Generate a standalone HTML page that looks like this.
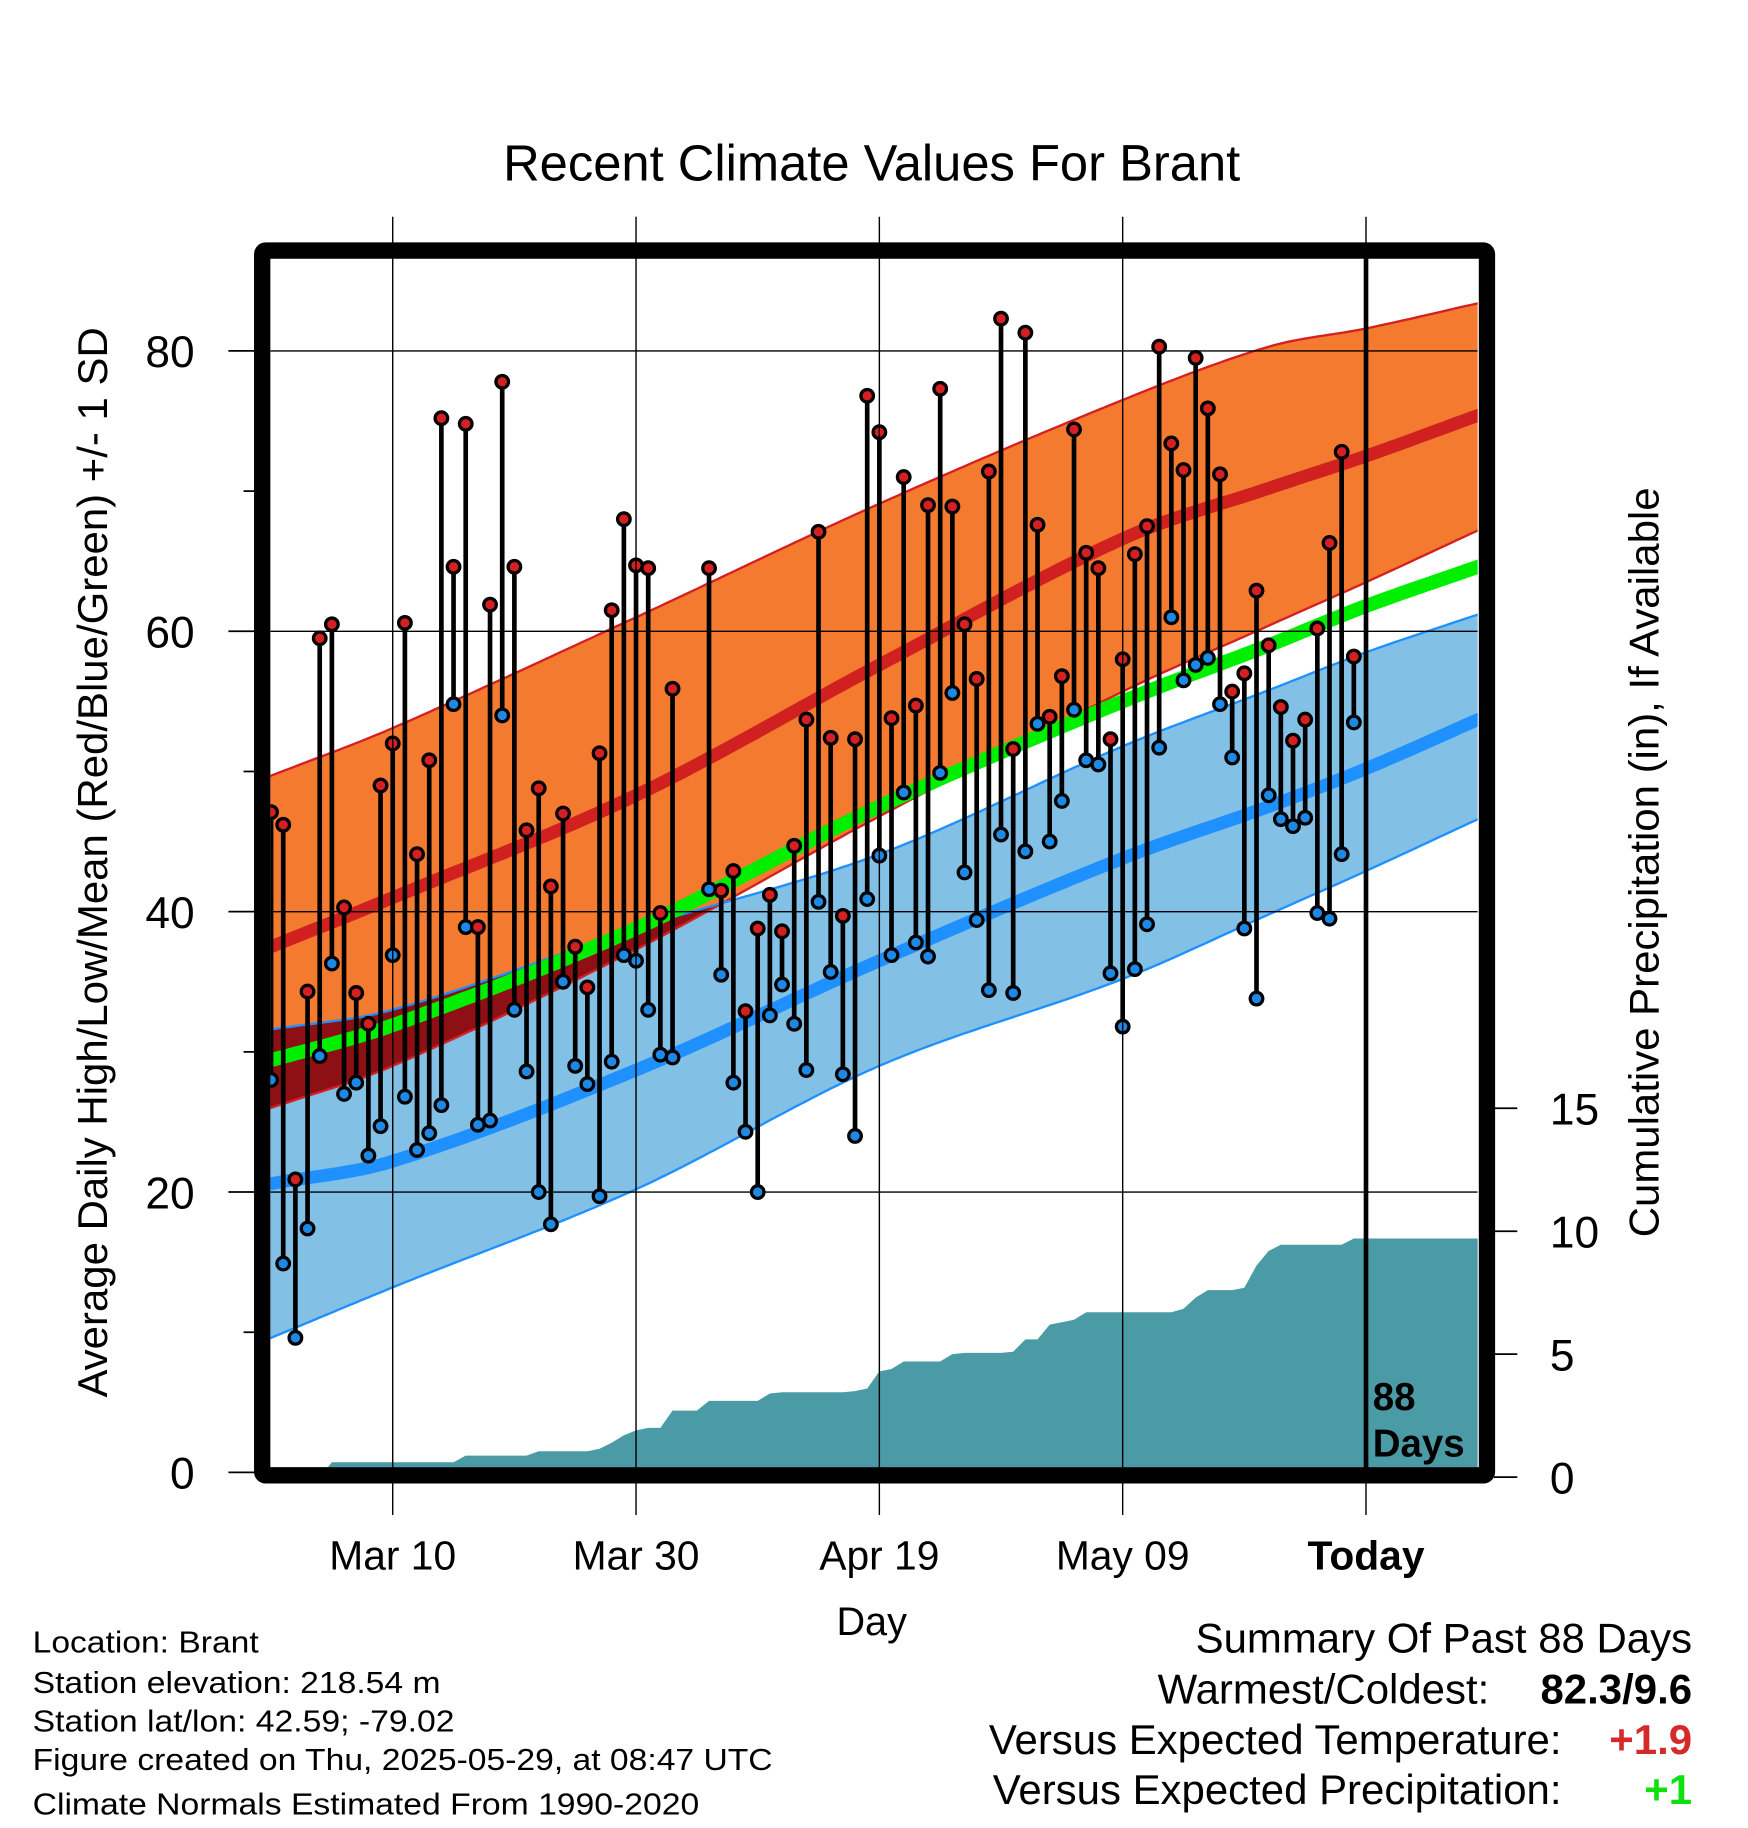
<!DOCTYPE html>
<html><head><meta charset="utf-8">
<style>
html,body{margin:0;padding:0;background:#fff;}
svg{display:block;font-family:"Liberation Sans",sans-serif;}
</style></head>
<body>
<svg id="chart" width="1748" height="1828" viewBox="0 0 1500 1568.6" xmlns="http://www.w3.org/2000/svg">
<rect width="1500" height="1568.6" fill="#fff"/>
<defs>
<clipPath id="plotclip"><rect x="232" y="222" width="1036" height="1037"/></clipPath>
</defs>
<g id="plot" clip-path="url(#plotclip)"></g>
<g id="axes"></g>
<text x="748" y="155" font-size="43.5" text-anchor="middle">Recent Climate Values For Brant</text>
<text transform="translate(92,740) rotate(-90)" font-size="36" text-anchor="middle">Average Daily High/Low/Mean (Red/Blue/Green) +/- 1 SD</text>
<text transform="translate(1423,740) rotate(-90)" font-size="36" text-anchor="middle">Cumulative Precipitation (in), If Available</text>
<text x="748" y="1403" font-size="34" text-anchor="middle">Day</text>
<text x="1178" y="1210" font-size="33" font-weight="bold">88</text>
<text x="1178" y="1250" font-size="33" font-weight="bold">Days</text>
<g font-size="26">
<text x="28" y="1418" textLength="194" lengthAdjust="spacingAndGlyphs">Location: Brant</text>
<text x="28" y="1453" textLength="350" lengthAdjust="spacingAndGlyphs">Station elevation: 218.54 m</text>
<text x="28" y="1486" textLength="362" lengthAdjust="spacingAndGlyphs">Station lat/lon: 42.59; -79.02</text>
<text x="28" y="1519" textLength="635" lengthAdjust="spacingAndGlyphs">Figure created on Thu, 2025-05-29, at 08:47 UTC</text>
<text x="28" y="1557" textLength="572" lengthAdjust="spacingAndGlyphs">Climate Normals Estimated From 1990-2020</text>
</g>
<g font-size="36" text-anchor="end">
<text x="1452" y="1418">Summary Of Past 88 Days</text>
<text x="1278" y="1462">Warmest/Coldest:</text>
<text x="1452" y="1462" font-weight="bold">82.3/9.6</text>
<text x="1340" y="1505">Versus Expected Temperature:</text>
<text x="1452" y="1505" font-weight="bold" fill="#d42a2a">+1.9</text>
<text x="1340" y="1548">Versus Expected Precipitation:</text>
<text x="1452" y="1548" font-weight="bold" fill="#10e010">+1</text>
</g>
</svg>
<script>
// ---- data ----
const normDays = [-10, 0, 20, 40, 60, 72, 80, 89.2];
const redUpper = [49.7, 53.1, 61.0, 69.1, 76.5, 80.3, 81.6, 83.4];
const redMean  = [37.5, 41.0, 48.3, 57.6, 66.6, 70.2, 72.5, 75.4];
const redLower = [26.0, 29.0, 37.3, 46.8, 55.7, 60.4, 63.5, 67.2];
const blueUpper= [31.6, 33.0, 38.8, 44.1, 51.8, 55.8, 58.5, 61.2];
const blueMean = [20.6, 22.2, 28.7, 36.5, 43.8, 47.5, 50.2, 53.7];
const blueLower= [9.6, 13.2, 20.2, 29.0, 35.2, 39.8, 42.9, 46.6];
const greenMean= [29.4, 31.9, 38.8, 47.5, 55.0, 59.0, 61.8, 64.6];
const firstDay = -10;
const highs = [47.1,46.2,20.9,34.3,59.5,60.5,40.3,34.2,32.0,49.0,52.0,60.6,44.1,50.8,75.2,64.6,74.8,38.9,61.9,77.8,64.6,45.8,48.8,41.8,47.0,37.5,34.6,51.3,61.5,68.0,64.7,64.5,39.9,55.9,null,null,64.5,41.5,42.9,32.9,38.8,41.2,38.6,44.7,53.7,67.1,52.4,39.7,52.3,76.8,74.2,53.8,71.0,54.7,69.0,77.3,68.9,60.5,56.6,71.4,82.3,51.6,81.3,67.6,53.9,56.8,74.4,65.6,64.5,52.3,58.0,65.5,67.5,80.3,73.4,71.5,79.5,75.9,71.2,55.7,57.0,62.9,59.0,54.6,52.2,53.7,60.2,66.3,72.8,58.2];
const lows = [28.0,14.9,9.6,17.4,29.7,36.3,27.0,27.8,22.6,24.7,36.9,26.8,23.0,24.2,26.2,54.8,38.9,24.8,25.1,54.0,33.0,28.6,20.0,17.7,35.0,29.0,27.7,19.7,29.3,36.9,36.5,33.0,29.8,29.6,null,null,41.6,35.5,27.8,24.3,20.0,32.6,34.8,32.0,28.7,40.7,35.7,28.4,24.0,40.9,44.0,36.9,48.5,37.8,36.8,49.9,55.6,42.8,39.4,34.4,45.5,34.2,44.3,53.4,45.0,47.9,54.4,50.8,50.5,35.6,31.8,35.9,39.1,51.7,61.0,56.5,57.6,58.1,54.8,51.0,38.8,33.8,48.3,46.6,46.1,46.7,39.9,39.5,44.1,53.5];
const precip = [0,0,0,0,0,0.6,0.6,0.6,0.6,0.6,0.6,0.6,0.6,0.6,0.6,0.6,0.87,0.87,0.87,0.87,0.87,0.87,1.05,1.05,1.05,1.05,1.05,1.15,1.4,1.7,1.9,2.0,2.0,2.7,2.7,2.7,3.1,3.1,3.1,3.1,3.1,3.4,3.45,3.45,3.45,3.45,3.45,3.45,3.5,3.6,4.3,4.4,4.7,4.7,4.7,4.7,5.0,5.05,5.05,5.05,5.05,5.1,5.6,5.6,6.2,6.3,6.4,6.7,6.7,6.7,6.7,6.7,6.7,6.7,6.7,6.85,7.3,7.6,7.6,7.6,7.7,8.6,9.2,9.45,9.45,9.45,9.45,9.45,9.45,9.7];
const yTicks = [0,20,40,60,80];
const y2Ticks = [0,5,10,15];
const xTickDays = [0,20,40,60,80];
const xTickLabels = ["Mar 10","Mar 30","Apr 19","May 09","Today"];
// ---- scales ----
const X0 = 337, DX = 10.44;
const x = d => X0 + DX*d;
const y = v => 1263.5 - 12.03*v;
const y2 = v => 1267.5 - 21.1*v;
const NS = "http://www.w3.org/2000/svg";
function mk(tag, attrs, parent){const e=document.createElementNS(NS,tag);for(const k in attrs)e.setAttribute(k,attrs[k]);parent.appendChild(e);return e;}
// smooth (cubic Hermite) interpolation of normals
function slope(arr,i){
  const n=normDays.length;
  if(i===0) return (arr[1]-arr[0])/(normDays[1]-normDays[0]);
  if(i===n-1) return (arr[n-1]-arr[n-2])/(normDays[n-1]-normDays[n-2]);
  return (arr[i+1]-arr[i-1])/(normDays[i+1]-normDays[i-1]);
}
function interp(arr, d){
  const n=normDays.length;
  let i=0;
  while(i<n-2 && d>normDays[i+1]) i++;
  const h=normDays[i+1]-normDays[i];
  const t=(d-normDays[i])/h;
  const m0=slope(arr,i)*h, m1=slope(arr,i+1)*h;
  const t2=t*t,t3=t2*t;
  return (2*t3-3*t2+1)*arr[i]+(t3-2*t2+t)*m0+(-2*t3+3*t2)*arr[i+1]+(t3-t2)*m1;
}
const dense=[];for(let d=-10.5; d<=89.5; d+=0.5) dense.push(d);
const pts = arr => dense.map(d=>x(d).toFixed(1)+","+y(interp(arr,d)).toFixed(1));
const plot = document.getElementById('plot');
const axes = document.getElementById('axes');
// precip area
let pd = "M"+x(firstDay)+","+y2(0);
precip.forEach((p,i)=>{pd+=" L"+x(firstDay+i).toFixed(1)+","+y2(p).toFixed(1);});
pd += " L1270,"+y2(precip[precip.length-1]).toFixed(1)+" L1270,"+y2(0)+" Z";
const pa = mk('path',{d:pd,fill:'#4a9ba6'},plot);


// bands
function band(up, lo, fill, name){
  const a = pts(up), b = pts(lo).reverse();
  const e = mk('polygon',{points:a.concat(b).join(' '),fill:fill},plot);
  
  
}
function line(arr, color, w, name){
  const e = mk('polyline',{points:pts(arr).join(' '),fill:'none',stroke:color,'stroke-width':w},plot);
  
  
}
band(redUpper, redLower, '#f47a30', 'high-band');
band(blueUpper, blueLower, '#82c0e6', 'low-band');
// overlap region
const ov=[];
dense.forEach(d=>{const a=interp(redLower,d),b=interp(blueUpper,d);ov.push([d,Math.min(a,b),b]);});
const ovPts = ov.map(o=>x(o[0]).toFixed(1)+","+y(o[1]).toFixed(1)).concat(ov.slice().reverse().map(o=>x(o[0]).toFixed(1)+","+y(o[2]).toFixed(1)));
const ovE = mk('polygon',{points:ovPts.join(' '),fill:'#8e1014'},plot);


line(redUpper,'#d42020',2,'high-upper-line');
line(redLower,'#d42020',2,'high-lower-line');
line(blueUpper,'#1e90ff',2,'low-upper-line');
line(blueLower,'#1e90ff',2,'low-lower-line');
line(redMean,'#d02020',11,'high-mean-line');
line(blueMean,'#1e90ff',11,'low-mean-line');
line(greenMean,'#00ee00',12,'mean-line');
// gridlines
yTicks.forEach(v=>{ if(v>0){const g=mk('line',{x1:232,x2:1268,y1:y(v),y2:y(v),stroke:'#000','stroke-width':1.2},plot);

}});
xTickDays.forEach(d=>{const g=mk('line',{x1:x(d),x2:x(d),y1:186,y2:1300,stroke:'#000','stroke-width':1.2},axes);

});
// stems and dots
highs.forEach((h,i)=>{
  const l=lows[i]; if(h==null||l==null) return;
  const xx=x(firstDay+i);
  const s=mk('line',{x1:xx,x2:xx,y1:y(h),y2:y(l),stroke:'#000','stroke-width':4},plot);
  
  
});
highs.forEach((h,i)=>{
  const l=lows[i]; if(h==null||l==null) return;
  const xx=x(firstDay+i);
  const a=mk('circle',{cx:xx,cy:y(h),r:5.4,fill:'#d42020',stroke:'#000','stroke-width':2.8},plot);
  
  
  const b=mk('circle',{cx:xx,cy:y(l),r:5.4,fill:'#1e88e5',stroke:'#000','stroke-width':2.8},plot);
  
  
});
// today line
const tl=mk('line',{x1:x(80),x2:x(80),y1:215,y2:1268,stroke:'#000','stroke-width':4},axes);


// frame
const fr=mk('rect',{x:225,y:215,width:1051,height:1051,rx:3,fill:'none',stroke:'#000','stroke-width':14},axes);


// y ticks
yTicks.forEach(v=>{
  const t=mk('line',{x1:196,x2:220,y1:y(v),y2:y(v),stroke:'#000','stroke-width':1.5},axes);
  
  
  const tx=mk('text',{x:167,y:y(v)+14,'font-size':38,'text-anchor':'end'},axes);
  tx.textContent=v;
  
  
});
[10,30,50,70].forEach(v=>{
  const t=mk('line',{x1:209,x2:220,y1:y(v),y2:y(v),stroke:'#000','stroke-width':1.5},axes);
  
  
});
y2Ticks.forEach(v=>{
  const t=mk('line',{x1:1282,x2:1302,y1:y2(v),y2:y2(v),stroke:'#000','stroke-width':1.5},axes);
  
  
  const tx=mk('text',{x:1330,y:y2(v)+14,'font-size':38},axes);
  tx.textContent=v;
  
  
});
xTickDays.forEach((d,i)=>{
  const tx=mk('text',{x:x(d),y:1347,'font-size':35,'text-anchor':'middle'},axes);
  if(xTickLabels[i]==='Today') tx.setAttribute('font-weight','bold');
  tx.textContent=xTickLabels[i];
  
  
});
</script>
</body></html>
